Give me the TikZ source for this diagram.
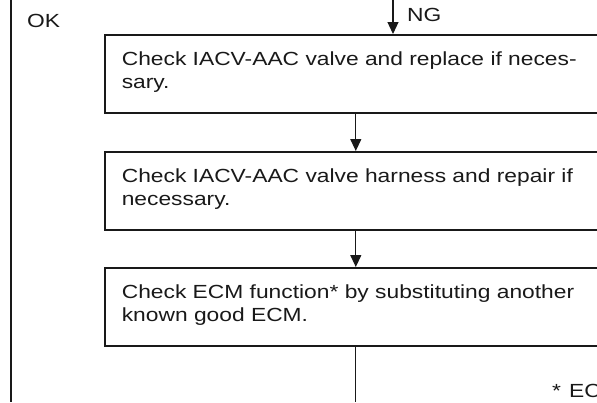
\documentclass[tikz,border=0pt]{standalone}
\usepackage{fontspec}
\newfontfamily\manfont[FakeStretch=1.2]{Liberation Sans}
\usetikzlibrary{arrows.meta}
\definecolor{ink}{RGB}{25,25,25}
\tikzset{
  >={Triangle[length=12pt,width=11pt]},
  chk/.style={draw=ink,line width=1.6pt,anchor=north west,minimum width=502pt,
    text width=468pt,inner xsep=17pt,inner ysep=18pt,text height=13pt,text depth=29pt,
    align=left,text=ink,font=\manfont\fontsize{19}{23}\selectfont},
  flow/.style={draw=ink,line width=1.2pt},
  tag/.style={anchor=base west,inner sep=0pt,text=ink,font=\manfont\fontsize{19}{23}\selectfont},
}

\begin{document}
\begin{tikzpicture}[x=1pt,y=-1pt]
  \useasboundingbox (0,0) rectangle (597,402);
  \clip (0,0) rectangle (597,402);
  % OK branch down the left side
  \coordinate (oktop) at (11,0);
  \coordinate (okbot) at (11,402);
  \draw[flow] (oktop) -- (okbot);
  \node[tag] (ok) at (27,27) {OK};
  % check steps
  \foreach \y/\txt [count=\i] in {
    34/{Check IACV-AAC valve and replace if neces-\\sary.},
    151/{Check IACV-AAC valve harness and repair if\\necessary.},
    267/{Check ECM function* by substituting another\\known good ECM.}}
  {
    \node[chk] (box\i) at (104,\y) {\txt};
  }
  % NG branch in from the top
  \coordinate (ngin) at (393,0);
  \draw[flow,->] (ngin) -- (ngin |- box1.north);
  \node[tag] (ng) at (407,21) {NG};
  \draw[flow,->] (box1) -- (box2);
  \draw[flow,->] (box2) -- (box3);
  \coordinate (out) at (box3.south |- okbot);
  \draw[flow] (box3) -- (out);
  \node[tag] (note) at (552,397) {*\hspace{8pt}EC};
\end{tikzpicture}
\end{document}
